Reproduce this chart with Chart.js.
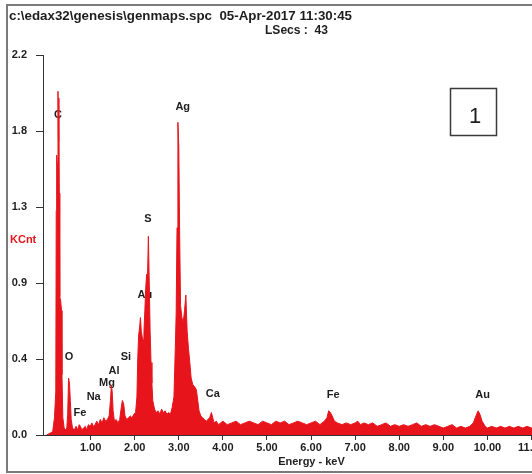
<!DOCTYPE html>
<html>
<head>
<meta charset="utf-8">
<title>EDS spectrum</title>
<script src="https://cdn.jsdelivr.net/npm/chart.js@4.4.1/dist/chart.umd.min.js"></script>
<style>
  html, body { margin: 0; padding: 0; background: #fff; overflow: hidden; }
  canvas { display: block; }
</style>
</head>
<body>
<canvas id="spectrum" width="600" height="474"></canvas>
<script>
// energy axis (keV) and counts (KCnt)
var energyKeV = [
  0.00, 0.08, 0.14, 0.18, 0.21, 0.22, 0.23, 0.25, 0.26, 0.27, 0.28, 0.29, 0.30, 0.32, 0.34, 0.35, 0.37, 0.40, 0.43, 0.46,
  0.48, 0.50, 0.52, 0.54, 0.56, 0.59, 0.63, 0.67, 0.71, 0.74, 0.77, 0.80, 0.84, 0.88, 0.91, 0.95, 0.99, 1.03, 1.06, 1.10,
  1.14, 1.18, 1.22, 1.26, 1.30, 1.34, 1.38, 1.42, 1.45, 1.47, 1.49, 1.51, 1.54, 1.58, 1.62, 1.66, 1.69, 1.72, 1.75, 1.78,
  1.82, 1.86, 1.90, 1.94, 1.98, 2.02, 2.05, 2.07, 2.09, 2.11, 2.13, 2.15, 2.17, 2.19, 2.21, 2.23, 2.25, 2.27, 2.29, 2.31,
  2.33, 2.35, 2.37, 2.39, 2.41, 2.45, 2.49, 2.53, 2.57, 2.61, 2.65, 2.69, 2.73, 2.77, 2.81, 2.85, 2.89, 2.92, 2.94, 2.96,
  2.98, 3.00, 3.02, 3.04, 3.07, 3.10, 3.13, 3.16, 3.19, 3.22, 3.25, 3.28, 3.32, 3.36, 3.40, 3.43, 3.46, 3.50, 3.54, 3.58,
  3.62, 3.66, 3.70, 3.74, 3.77, 3.80, 3.85, 3.90, 3.95, 4.00, 4.10, 4.20, 4.30, 4.40, 4.50, 4.60, 4.70, 4.80, 4.90, 5.00,
  5.10, 5.20, 5.30, 5.40, 5.50, 5.60, 5.70, 5.80, 5.90, 6.00, 6.10, 6.20, 6.30, 6.36, 6.40, 6.44, 6.48, 6.53, 6.60, 6.70,
  6.80, 6.90, 7.00, 7.06, 7.12, 7.20, 7.30, 7.40, 7.50, 7.60, 7.70, 7.80, 7.90, 8.00, 8.10, 8.20, 8.30, 8.40, 8.50, 8.60,
  8.70, 8.80, 8.90, 9.00, 9.10, 9.20, 9.30, 9.40, 9.50, 9.60, 9.68, 9.74, 9.79, 9.83, 9.88, 9.95, 10.00, 10.10, 10.20, 10.30,
  10.40, 10.50, 10.60, 10.70, 10.80, 10.90, 11.00, 11.10, 11.20, 11.30, 11.40, 11.50, 11.60, 11.70, 11.80, 11.90, 12.00, 12.10
];
var kcnt = [
  0.00, 0.01, 0.02, 0.10, 0.25, 1.30, 1.62, 1.55, 1.99, 1.70, 1.95, 1.40, 0.80, 0.78, 0.72, 0.35, 0.10, 0.04, 0.03, 0.04,
  0.12, 0.33, 0.30, 0.20, 0.09, 0.04, 0.03, 0.05, 0.03, 0.06, 0.05, 0.03, 0.04, 0.05, 0.03, 0.06, 0.05, 0.07, 0.05, 0.06,
  0.08, 0.06, 0.09, 0.07, 0.10, 0.08, 0.09, 0.11, 0.20, 0.29, 0.25, 0.14, 0.08, 0.09, 0.07, 0.09, 0.15, 0.20, 0.18, 0.11,
  0.09, 0.10, 0.11, 0.10, 0.12, 0.13, 0.22, 0.45, 0.58, 0.62, 0.68, 0.60, 0.57, 0.55, 0.60, 0.72, 0.85, 0.93, 0.90, 1.15,
  0.88, 0.60, 0.42, 0.30, 0.20, 0.15, 0.13, 0.14, 0.12, 0.15, 0.13, 0.14, 0.12, 0.13, 0.12, 0.16, 0.22, 0.50, 0.70, 1.20,
  1.81, 1.67, 1.15, 0.75, 0.68, 0.65, 0.72, 0.81, 0.60, 0.50, 0.42, 0.33, 0.29, 0.28, 0.26, 0.20, 0.14, 0.11, 0.10, 0.09,
  0.08, 0.09, 0.10, 0.13, 0.10, 0.07, 0.08, 0.06, 0.07, 0.08, 0.06, 0.07, 0.08, 0.06, 0.07, 0.08, 0.07, 0.06, 0.08, 0.07,
  0.06, 0.08, 0.07, 0.08, 0.06, 0.07, 0.08, 0.07, 0.06, 0.07, 0.08, 0.06, 0.08, 0.10, 0.14, 0.13, 0.11, 0.08, 0.07, 0.06,
  0.07, 0.06, 0.07, 0.08, 0.06, 0.07, 0.06, 0.07, 0.05, 0.06, 0.07, 0.05, 0.06, 0.05, 0.06, 0.05, 0.06, 0.07, 0.05, 0.06,
  0.05, 0.06, 0.05, 0.04, 0.05, 0.06, 0.04, 0.05, 0.04, 0.05, 0.07, 0.11, 0.14, 0.12, 0.08, 0.05, 0.04, 0.05, 0.04, 0.05,
  0.04, 0.05, 0.04, 0.05, 0.04, 0.05, 0.04, 0.05, 0.04, 0.04, 0.05, 0.04, 0.04, 0.05, 0.04, 0.04, 0.05, 0.04
];

// axis ticks
var xTickValues = [1, 2, 3, 4, 5, 6, 7, 8, 9, 10, 11, 12];
var yTickValues = [0, 0.44, 0.88, 1.32, 1.76, 2.2];
var yTickLabels = ['0.0', '0.4', '0.9', '1.3', '1.8', '2.2'];

// element markers: name, energy (keV), label height (KCnt)
var peakNames  = ['C', 'O', 'Fe', 'Na', 'Mg', 'Al', 'Si', 'Au', 'S', 'Ag', 'Ca', 'Fe', 'Au'];
var peakEnergy = [0.26, 0.51, 0.76, 1.07, 1.37, 1.53, 1.80, 2.23, 2.30, 3.09, 3.77, 6.50, 9.89];
var peakHeight = [1.85, 0.45, 0.13, 0.22, 0.30, 0.37, 0.45, 0.81, 1.25, 1.90, 0.24, 0.23, 0.23];

var headerLine1 = 'c:\\edax32\\genesis\\genmaps.spc  05-Apr-2017 11:30:45';
var headerLine2 = 'LSecs :  43';

var RED = '#e8141b';
var INK = '#1e1e1e';
var BOLD = 'bold 11px "Liberation Sans", Arial, sans-serif';

// draw text squeezed/stretched to a given width
function fitText(ctx, text, x, y, width) {
  var w = ctx.measureText(text).width;
  ctx.save();
  ctx.translate(x, y);
  ctx.scale(width / w, 1);
  ctx.fillText(text, 0, 0);
  ctx.restore();
}

var overlay = {
  id: 'overlay',
  beforeDatasetsDraw: function(chart) {
    var ctx = chart.ctx, xs = chart.scales.x, ys = chart.scales.y;
    ctx.save();
    ctx.font = BOLD;
    ctx.fillStyle = INK;
    ctx.textAlign = 'center';
    ctx.textBaseline = 'middle';
    for (var i = 0; i < peakNames.length; i++) {
      ctx.fillText(peakNames[i], xs.getPixelForValue(peakEnergy[i]), ys.getPixelForValue(peakHeight[i]));
    }
    ctx.restore();
  },
  afterDraw: function(chart) {
    var ctx = chart.ctx;
    ctx.save();
    // header
    ctx.font = 'bold 12px "Liberation Sans", Arial, sans-serif';
    ctx.fillStyle = INK;
    ctx.textAlign = 'left';
    ctx.textBaseline = 'alphabetic';
    fitText(ctx, headerLine1, 9, 20, 343);
    fitText(ctx, headerLine2, 265, 34, 63);
    // y axis name
    ctx.font = BOLD;
    ctx.fillStyle = RED;
    ctx.textBaseline = 'middle';
    ctx.fillText('KCnt', 10, 240);
    // sample number box
    ctx.strokeStyle = '#3a3a3a';
    ctx.lineWidth = 1.5;
    ctx.strokeRect(450.5, 88.5, 46, 47);
    ctx.font = '22px "Liberation Sans", Arial, sans-serif';
    ctx.fillStyle = INK;
    ctx.textAlign = 'center';
    ctx.textBaseline = 'alphabetic';
    ctx.fillText('1', 475, 123);
    // outer frame
    ctx.strokeStyle = '#7a7a7a';
    ctx.lineWidth = 2;
    ctx.beginPath();
    ctx.moveTo(600, 5);
    ctx.lineTo(7, 5);
    ctx.lineTo(7, 472);
    ctx.lineTo(600, 472);
    ctx.stroke();
    ctx.restore();
  }
};

var points = energyKeV.map(function(e, i) { return { x: e, y: kcnt[i] }; });

new Chart(document.getElementById('spectrum'), {
  type: 'line',
  data: {
    datasets: [{
      data: points,
      borderColor: RED,
      backgroundColor: RED,
      borderWidth: 1,
      pointRadius: 0,
      tension: 0,
      fill: 'origin'
    }]
  },
  options: {
    responsive: false,
    devicePixelRatio: 1,
    animation: false,
    layout: { padding: { top: 55, left: 8, right: 20, bottom: 0 } },
    plugins: {
      legend: { display: false },
      tooltip: { enabled: false }
    },
    scales: {
      x: {
        type: 'linear',
        min: -0.08,
        max: 12.1,
        afterFit: function(scale) { scale.height = 39; },
        afterBuildTicks: function(scale) {
          scale.ticks = xTickValues.map(function(v) { return { value: v }; });
        },
        ticks: {
          autoSkip: false,
          maxRotation: 0,
          padding: 1,
          color: INK,
          font: { family: '"Liberation Sans", Arial, sans-serif', size: 11, weight: 'bold' },
          callback: function(v) { return v.toFixed(2); }
        },
        grid: { drawOnChartArea: false, drawTicks: true, tickLength: 5, color: '#333' },
        border: { display: true, color: '#333', width: 1 },
        title: {
          display: true,
          text: 'Energy - keV',
          color: INK,
          font: { family: '"Liberation Sans", Arial, sans-serif', size: 11, weight: 'bold' },
          padding: { top: 0, bottom: 5 }
        }
      },
      y: {
        min: 0,
        max: 2.2,
        afterFit: function(scale) { scale.width = 35; },
        afterBuildTicks: function(scale) {
          scale.ticks = yTickValues.map(function(v) { return { value: v }; });
        },
        ticks: {
          autoSkip: false,
          padding: 9,
          color: INK,
          font: { family: '"Liberation Sans", Arial, sans-serif', size: 11, weight: 'bold' },
          callback: function(v, i) { return yTickLabels[i]; }
        },
        grid: { drawOnChartArea: false, drawTicks: true, tickLength: 7, color: '#333' },
        border: { display: true, color: '#333', width: 1 }
      }
    }
  },
  plugins: [overlay]
});
</script>
</body>
</html>
